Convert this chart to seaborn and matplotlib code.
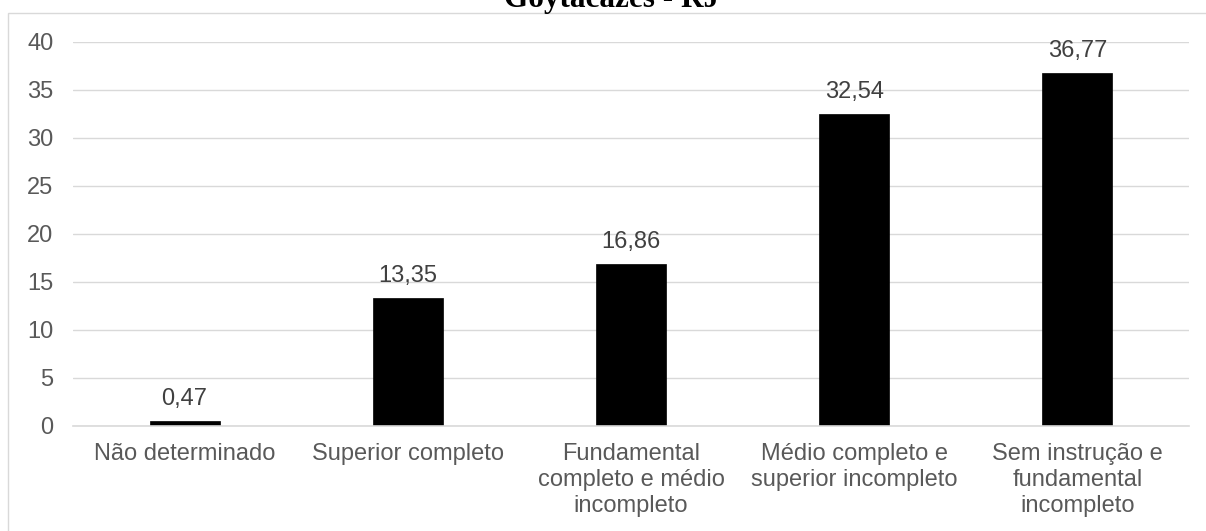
import matplotlib
matplotlib.use("Agg")
import matplotlib.pyplot as plt
import seaborn as sns
import pandas as pd
from matplotlib.patches import Rectangle

categories = [
    "Não determinado",
    "Superior completo",
    "Fundamental\ncompleto e médio\nincompleto",
    "Médio completo e\nsuperior incompleto",
    "Sem instrução e\nfundamental\nincompleto",
]
values = [0.47, 13.35, 16.86, 32.54, 36.77]
yticks = [0, 5, 10, 15, 20, 25, 30, 35, 40]
title = "Goytacazes - RJ"

sns.set_theme(style="white")
plt.rcParams["font.family"] = ["Liberation Sans", "DejaVu Sans"]

df = pd.DataFrame({"cat": categories, "val": values})

fig = plt.figure(figsize=(12.06, 5.31), dpi=100)
ax = fig.add_axes([73 / 1206, 1 - 426 / 531, (1189 - 73) / 1206, (426 - 42) / 531])

sns.barplot(data=df, x="cat", y="val", color="black", width=0.314,
            saturation=1, ax=ax, edgecolor="black", linewidth=0.5)

ax.set_ylim(0, 40)
ax.set_yticks(yticks)
ax.set_yticklabels([str(t) for t in yticks])
ax.set_xlabel("")
ax.set_ylabel("")
ax.yaxis.grid(True, color="#d9d9d9", linewidth=1.0)
ax.set_axisbelow(True)
for s in ["left", "right", "top"]:
    ax.spines[s].set_visible(False)
ax.spines["bottom"].set_color("#d9d9d9")
ax.spines["bottom"].set_linewidth(1.2)
ax.tick_params(axis="y", length=0, pad=14, labelsize=17, labelcolor="#595959")
ax.tick_params(axis="x", length=0, pad=12, labelsize=17, labelcolor="#595959")
for lbl in ax.get_xticklabels():
    lbl.set_linespacing(1.25)

labels = [f"{v:.2f}".replace(".", ",") for v in values]
ax.bar_label(ax.containers[0], labels=labels, padding=8, fontsize=17, color="#404040")

# chart area border
fig.patches.append(Rectangle((8 / 1206, -0.05), 1.2, 1 - 13 / 531 + 0.05,
                             transform=fig.transFigure, fill=False,
                             edgecolor="#d9d9d9", linewidth=1.0, zorder=0))

fig.text(612 / 1206, 1 - 7 / 531, title, ha="center", va="baseline",
         fontsize=22.5, fontweight="bold", family=["Liberation Serif", "DejaVu Serif"],
         color="black")

fig.savefig("out.png", dpi=100, facecolor="white")
